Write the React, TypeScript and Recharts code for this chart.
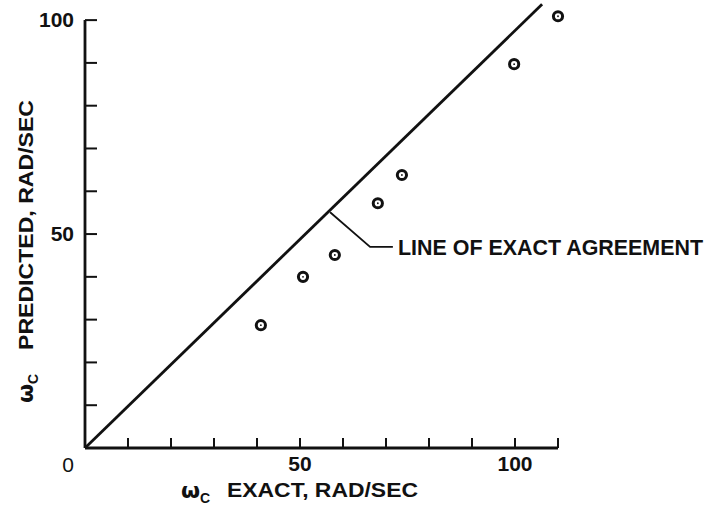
import { ReferenceDot, ReferenceLine, Scatter, ScatterChart, XAxis, YAxis } from "recharts";

const exactW = [40.9, 50.7, 58.1, 68.1, 73.7, 99.8, 110];
const predictedW = [28.7, 40, 45.1, 57.2, 63.8, 89.7, 100.9];
const xTicks = [0, 10, 20, 30, 40, 50, 60, 70, 80, 90, 100, 110];
const yTicks = [10, 20, 30, 40, 50, 60, 70, 80, 90, 100];
const labelledTicks = [50, 100];
const agreementX = [0, 106.3];
const agreementY = [0, 103.7];
const leaderX = [57, 66.3, 71.6];
const leaderY = [55.1, 47, 47];

const points = exactW.map((x, i) => ({ x, y: predictedW[i] }));
const agreement = agreementX.map((x, i) => ({ x, y: agreementY[i] }));
const leader = leaderX.map((x, i) => ({ x, y: leaderY[i] }));

const INK = "#111";
const FONT = "'Liberation Sans', Arial, sans-serif";

function Ring(props: any) {
  const { cx, cy } = props;
  return (
    <g>
      <circle cx={cx} cy={cy} r={4.6} fill="#fff" stroke={INK} strokeWidth={3} />
      <circle cx={cx} cy={cy} r={0.9} fill={INK} />
    </g>
  );
}

function XTick({ x, y, payload }: any) {
  const v = payload.value;
  if (v === 0) {
    return (
      <text x={x - 17} y={y + 24} textAnchor="middle" fontFamily={FONT} fontSize={21} fill={INK}>
        0
      </text>
    );
  }
  return (
    <g>
      <line x1={x} y1={y} x2={x} y2={y - 10} stroke={INK} strokeWidth={2} />
      {labelledTicks.includes(v) && (
        <text x={x} y={y + 23} textAnchor="middle" fontFamily={FONT} fontSize={21} fontWeight={600} fill={INK}>
          {v}
        </text>
      )}
    </g>
  );
}

function YTick({ x, y, payload }: any) {
  const v = payload.value;
  return (
    <g>
      <line x1={x} y1={y} x2={x + 12} y2={y} stroke={INK} strokeWidth={2} />
      {labelledTicks.includes(v) && (
        <text x={x - 11} y={y + 7} textAnchor="end" fontFamily={FONT} fontSize={21} fontWeight={600} fill={INK}>
          {v}
        </text>
      )}
    </g>
  );
}

function XTitle({ viewBox }: any) {
  const { x } = viewBox;
  const base = 497;
  return (
    <g fill={INK} fontWeight={700}>
      <text x={x + 96} y={base + 1} fontSize={22} fontFamily="'DejaVu Sans', sans-serif">
        ω
      </text>
      <text x={x + 115} y={base + 6} fontSize={14} fontFamily={FONT}>
        C
      </text>
      <text x={x + 142} y={base} fontSize={21} fontFamily={FONT} textLength={191} lengthAdjust="spacingAndGlyphs">
        EXACT, RAD/SEC
      </text>
    </g>
  );
}

function YTitle() {
  const bx = 33;
  return (
    <g fill={INK} fontWeight={700}>
      <text x={bx} y={403} fontSize={22} fontFamily="'DejaVu Sans', sans-serif" transform={`rotate(-90 ${bx} 403)`}>
        ω
      </text>
      <text x={bx + 5} y={384} fontSize={14} fontFamily={FONT} transform={`rotate(-90 ${bx + 5} 384)`}>
        C
      </text>
      <text
        x={bx}
        y={350}
        fontSize={21}
        fontFamily={FONT}
        textLength={250}
        lengthAdjust="spacingAndGlyphs"
        transform={`rotate(-90 ${bx} 350)`}
      >
        PREDICTED, RAD/SEC
      </text>
    </g>
  );
}

function Callout({ viewBox }: any) {
  const { x, y } = viewBox;
  return (
    <text
      x={x}
      y={y + 8}
      fontFamily={FONT}
      fontSize={22}
      fontWeight={700}
      fill={INK}
      textLength={305}
      lengthAdjust="spacingAndGlyphs"
    >
      LINE OF EXACT AGREEMENT
    </text>
  );
}

export default function App() {
  return (
    <div style={{ position: "fixed", left: 0, top: 0, background: "#fff" }}>
      <ScatterChart width={717} height={510} margin={{ top: 3, right: 30, bottom: 32, left: 25 }}>
        <XAxis
          type="number"
          dataKey="x"
          domain={[0, 140]}
          ticks={xTicks}
          height={30}
          axisLine={false}
          tickLine={false}
          tickSize={0}
          tickMargin={0}
          tick={<XTick />}
          interval={0}
          label={<XTitle />}
        />
        <YAxis
          type="number"
          dataKey="y"
          domain={[0, 104]}
          ticks={yTicks}
          width={60}
          axisLine={false}
          tickLine={false}
          tickSize={0}
          tickMargin={0}
          tick={<YTick />}
          interval={0}
          label={<YTitle />}
        />
        <ReferenceLine segment={[{ x: 0, y: 0 }, { x: 110, y: 0 }]} stroke={INK} strokeWidth={2.8} ifOverflow="visible" />
        <ReferenceLine segment={[{ x: 0, y: 0 }, { x: 0, y: 100 }]} stroke={INK} strokeWidth={2.8} ifOverflow="visible" />
        <Scatter data={agreement} line={{ stroke: INK, strokeWidth: 2.8 }} shape={() => null} isAnimationActive={false} />
        <Scatter data={leader} line={{ stroke: INK, strokeWidth: 1.8 }} shape={() => null} isAnimationActive={false} />
        <Scatter data={points} shape={<Ring />} isAnimationActive={false} />
        <ReferenceDot x={72.8} y={47} r={0} stroke="none" fill="none" label={<Callout />} ifOverflow="visible" />
      </ScatterChart>
    </div>
  );
}
